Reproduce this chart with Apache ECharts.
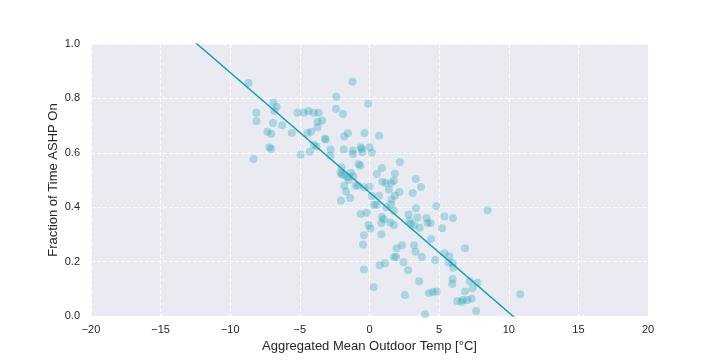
<!DOCTYPE html>
<html>
<head>
<meta charset="utf-8">
<script src="https://cdn.jsdelivr.net/npm/echarts@6/dist/echarts.min.js"></script>
<style>html,body{margin:0;padding:0;background:#fff}#c{width:720px;height:360px}</style>
</head>
<body>
<div id="c"></div>
<script>
var xTicks = [-20,-15,-10,-5,0,5,10,15,20];
var yTicks = [0.0,0.2,0.4,0.6,0.8,1.0];
var temps = [-8.68,-1.22,-8.12,-8.12,-8.32,-6.9,-6.67,-6.83,-6.93,-6.27,-7.33,-7.06,-7.19,-7.06,-5.58,-5.18,-4.72,-4.39,-4.0,-3.66,-3.4,-3.73,-3.73,-4.19,-4.46,-3.2,-3.14,-4.0,-3.8,-2.8,-4.29,-4.95,-2.38,-2.41,-1.91,-0.1,-1.82,-1.55,-0.36,0.69,-1.85,-1.19,-1.19,-0.63,-0.56,-0.53,0.0,0.17,-0.79,-0.66,-2.01,-2.08,-2.01,-1.82,-1.58,-1.35,-1.16,-1.82,-1.68,-0.83,-0.4,0.0,-2.05,-1.39,0.53,0.89,0.92,1.16,1.55,1.82,2.18,1.75,1.39,2.15,1.82,1.58,1.55,0.69,0.17,0.33,0.5,1.22,1.75,3.33,3.7,3.1,3.33,4.79,-0.63,-0.2,0.89,1.02,0.86,1.49,1.75,-0.07,0.07,2.81,2.87,2.97,3.2,3.43,3.6,4.09,4.16,4.39,5.38,6.0,5.21,8.48,-0.4,0.86,-0.46,4.42,3.2,2.34,1.95,3.3,6.86,5.38,5.74,3.76,1.75,1.91,4.72,5.97,5.68,2.44,1.12,0.73,6.0,2.77,-0.4,5.97,5.94,3.56,7.19,7.76,7.39,0.3,6.86,2.54,4.26,4.55,4.82,10.82,6.3,6.6,6.73,7.03,7.33,7.66,3.99,-1.5,-2.8,-1.0];
var fractions = [0.857,0.861,0.747,0.717,0.577,0.785,0.769,0.754,0.71,0.701,0.677,0.67,0.62,0.614,0.673,0.747,0.747,0.754,0.747,0.747,0.719,0.714,0.694,0.677,0.673,0.652,0.649,0.63,0.623,0.612,0.604,0.593,0.806,0.762,0.743,0.78,0.66,0.672,0.673,0.663,0.612,0.608,0.596,0.62,0.614,0.602,0.62,0.6,0.559,0.552,0.547,0.528,0.52,0.518,0.51,0.527,0.514,0.479,0.458,0.479,0.473,0.475,0.424,0.434,0.522,0.544,0.494,0.489,0.489,0.523,0.566,0.497,0.464,0.456,0.442,0.428,0.41,0.442,0.441,0.409,0.409,0.4,0.387,0.504,0.474,0.452,0.396,0.404,0.375,0.38,0.365,0.356,0.342,0.344,0.335,0.335,0.322,0.373,0.35,0.339,0.334,0.362,0.324,0.36,0.342,0.342,0.366,0.36,0.323,0.389,0.297,0.301,0.263,0.283,0.26,0.26,0.249,0.236,0.249,0.231,0.22,0.217,0.217,0.217,0.206,0.195,0.197,0.198,0.194,0.187,0.177,0.168,0.171,0.136,0.118,0.128,0.128,0.122,0.102,0.107,0.09,0.077,0.085,0.088,0.09,0.08,0.055,0.052,0.059,0.059,0.063,0.018,0.006,0.5,0.59,0.48];
var fitSlope = -0.0441;
var fitIntercept = 0.454;
var fitX = [-20, 20];

var pts = temps.map(function(t,i){return [t, fractions[i]];});
var fitPts = fitX.map(function(x){return [x, fitIntercept + fitSlope*x];});
var col = '#17a2b4';
var FONT = 'Liberation Sans, Arial, sans-serif';
var chart = echarts.init(document.getElementById('c'), null, {renderer:'canvas'});
chart.setOption({
  animation:false,
  backgroundColor:'#ffffff',
  grid:{left:91,right:72,top:44,bottom:44,show:true,backgroundColor:'#eaeaf2',borderWidth:0},
  xAxis:{type:'value',min:xTicks[0],max:xTicks[xTicks.length-1],interval:5,
    name:'Aggregated Mean Outdoor Temp [°C]',nameLocation:'middle',nameGap:21,
    nameTextStyle:{color:'#262626',fontSize:13,fontFamily:FONT},
    axisLine:{show:false},axisTick:{show:false},
    axisLabel:{color:'#262626',fontSize:11,fontFamily:FONT,margin:8,formatter:function(v){return v<0?'\u2212'+(-v):String(v);}},
    splitLine:{show:true,lineStyle:{color:'#ffffff',type:'dashed',width:1}}},
  yAxis:{type:'value',min:yTicks[0],max:yTicks[yTicks.length-1],interval:0.2,
    name:'Fraction of Time ASHP On',nameLocation:'middle',nameGap:31,nameMoveOverlap:false,
    nameTextStyle:{color:'#262626',fontSize:13,fontFamily:FONT},
    axisLine:{show:false},axisTick:{show:false},
    axisLabel:{color:'#262626',fontSize:11,fontFamily:FONT,margin:11,formatter:function(v){return v.toFixed(1);}},
    splitLine:{show:true,lineStyle:{color:'#ffffff',type:'dashed',width:1}}},
  series:[
    {type:'scatter',data:pts,symbolSize:8,itemStyle:{color:col,opacity:0.3},z:2},
    {type:'line',data:fitPts,showSymbol:false,clip:true,lineStyle:{color:col,width:1.5},z:3}
  ]
});
</script>
</body>
</html>
